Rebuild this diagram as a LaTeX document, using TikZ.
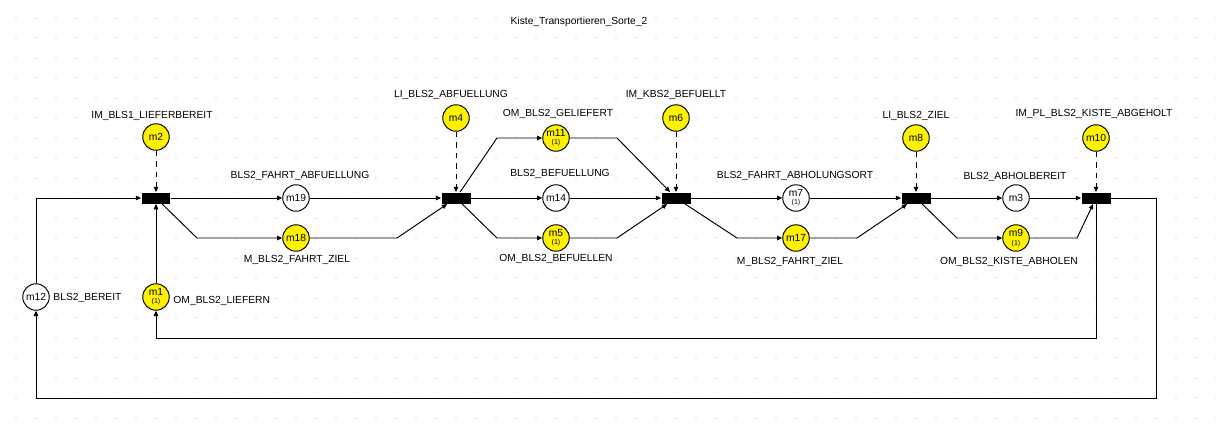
\documentclass[tikz,border=0pt]{standalone}
\usepackage{fontspec}
\setmainfont{Liberation Sans}
\usetikzlibrary{arrows.meta}

\newcommand{\mk}[1]{\shortstack{#1\\[-1.2pt]{\fontsize{4}{4}\selectfont(1)}}}

\begin{document}
\begin{tikzpicture}[x=0.02cm,y=-0.02cm,
    font=\fontsize{5.85}{7}\selectfont,
    >={Triangle[length=3pt,width=2.6pt]},
    every path/.style={line width=0.55pt},
    place/.style={circle,draw,fill=white,minimum size=0.53cm,inner sep=0pt},
    marked/.style={place,fill=yellow},
    trans/.style={rectangle,fill=black,minimum width=0.58cm,minimum height=0.22cm,inner sep=0pt},
    arc/.style={->},
    readarc/.style={->,dashed},
    lbl/.style={inner sep=0pt}]
    \useasboundingbox (0,0) rectangle (1216,434);
    \foreach \i in {0,...,60}
      \foreach \j in {0,...,20}
        \fill[gray!70] (16+20*\i,18+20*\j) circle (0.35pt);

    \node[lbl] (title) at (579,22) {Kiste\_Transportieren\_Sorte\_2};

    \node[trans] (t1) at (156,198) {};
    \node[trans] (t2) at (456,198) {};
    \node[trans] (t3) at (676,198) {};
    \node[trans] (t4) at (916,198) {};
    \node[trans] (t5) at (1096,198) {};

    \node[marked] (m2) at (156,137) {m2};
    \node[lbl] (l2) at (152,116) {IM\_BLS1\_LIEFERBEREIT};
    \node[place] (m19) at (296,198) {m19};
    \node[lbl] (l19) at (300,176) {BLS2\_FAHRT\_ABFUELLUNG};
    \node[marked] (m18) at (296,238) {m18};
    \node[lbl] (l18) at (297,260) {M\_BLS2\_FAHRT\_ZIEL};
    \node[place] (m12) at (36,297) {m12};
    \node[lbl,anchor=west] (l12) at (53,298) {BLS2\_BEREIT};
    \node[marked] (m1) at (156,297) {\mk{m1}};
    \node[lbl,anchor=west] (l1) at (173,301) {OM\_BLS2\_LIEFERN};

    \node[marked] (m4) at (456,118) {m4};
    \node[lbl] (l4) at (451,95) {LI\_BLS2\_ABFUELLUNG};
    \node[marked] (m11) at (556,138) {\mk{m11}};
    \node[lbl] (l11) at (558,114) {OM\_BLS2\_GELIEFERT};
    \node[place] (m14) at (556,198) {m14};
    \node[lbl] (l14) at (560,174) {BLS2\_BEFUELLUNG};
    \node[marked] (m5) at (556,238) {\mk{m5}};
    \node[lbl] (l5) at (556,259) {OM\_BLS2\_BEFUELLEN};
    \node[marked] (m6) at (676,118) {m6};
    \node[lbl] (l6) at (676,95) {IM\_KBS2\_BEFUELLT};

    \node[place] (m7) at (796,198) {\mk{m7}};
    \node[lbl] (l7) at (795,176) {BLS2\_FAHRT\_ABHOLUNGSORT};
    \node[marked] (m17) at (796,238) {m17};
    \node[lbl] (l17) at (790,262) {M\_BLS2\_FAHRT\_ZIEL};
    \node[marked] (m8) at (916,138) {m8};
    \node[lbl] (l8) at (916,116) {LI\_BLS2\_ZIEL};
    \node[place] (m3) at (1016,198) {m3};
    \node[lbl] (l3) at (1015,177) {BLS2\_ABHOLBEREIT};
    \node[marked] (m9) at (1016,238) {\mk{m9}};
    \node[lbl] (l9) at (1009,262) {OM\_BLS2\_KISTE\_ABHOLEN};
    \node[marked] (m10) at (1096,138) {m10};
    \node[lbl] (l10) at (1094,114) {IM\_PL\_BLS2\_KISTE\_ABGEHOLT};

    \draw[arc] (m12) |- (t1);
    \draw[arc] (m1) -- (t1);
    \draw[readarc] (m2) -- (t1);
    \draw[arc] (t1) -- (m19);
    \draw[arc] (t1) -- (197,238) -- (m18);
    \draw[arc] (m19) -- (t2);
    \draw[arc] (m18) -- (397,238) -- (t2);

    \draw[readarc] (m4) -- (t2);
    \draw[arc] (t2) -- (497,138) -- (m11);
    \draw[arc] (t2) -- (m14);
    \draw[arc] (t2) -- (497,238) -- (m5);
    \draw[arc] (m11) -- (617,138) -- (t3);
    \draw[arc] (m14) -- (t3);
    \draw[arc] (m5) -- (617,238) -- (t3);

    \draw[readarc] (m6) -- (t3);
    \draw[arc] (t3) -- (m7);
    \draw[arc] (t3) -- (737,238) -- (m17);
    \draw[arc] (m7) -- (t4);
    \draw[arc] (m17) -- (857,238) -- (t4);

    \draw[readarc] (m8) -- (t4);
    \draw[arc] (t4) -- (m3);
    \draw[arc] (t4) -- (957,238) -- (m9);
    \draw[arc] (m3) -- (t5);
    \draw[arc] (m9) -- (1077,238) -- (t5);

    \draw[readarc] (m10) -- (t5);
    \draw[arc] (t5) -- (1096,338) -| (m1);
    \draw[arc] (t5) -| (1156,398) -| (m12);
\end{tikzpicture}
\end{document}
